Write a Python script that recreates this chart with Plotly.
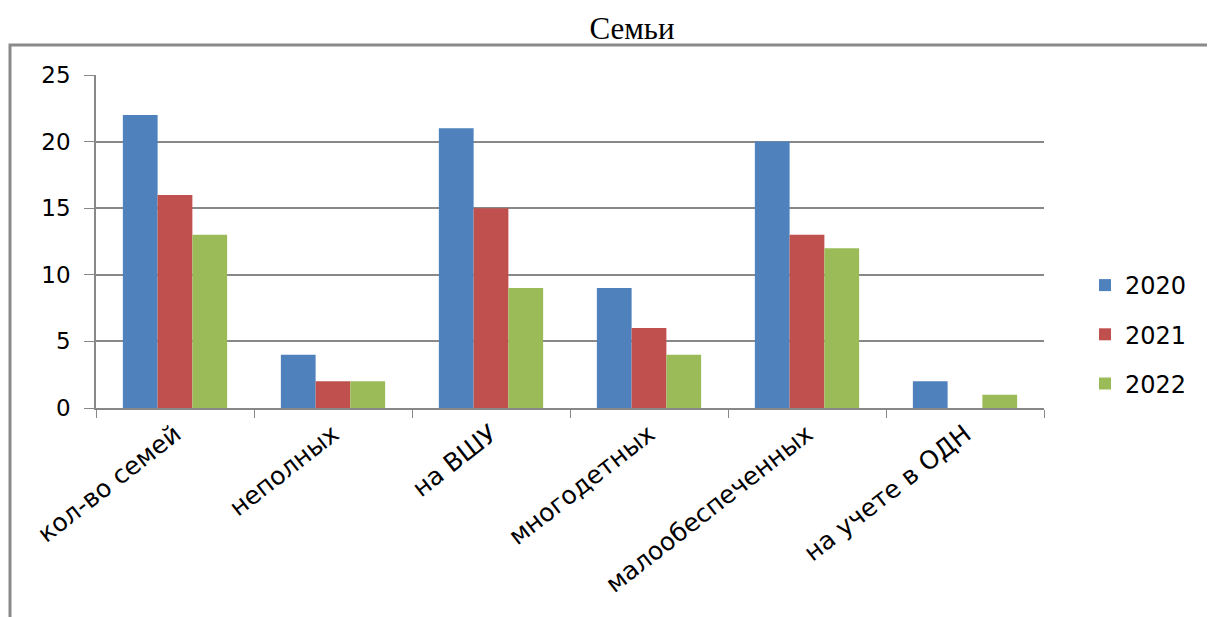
import plotly.graph_objects as go

categories = ["кол-во семей", "неполных", "на ВШУ", "многодетных", "малообеспеченных", "на учете в ОДН"]
series_names = ["2020", "2021", "2022"]
values_2020 = [22, 4, 21, 9, 20, 2]
values_2021 = [16, 2, 15, 6, 13, 0]
values_2022 = [13, 2, 9, 4, 12, 1]
colors = ["#4F81BD", "#C0504D", "#9BBB59"]
y_ticks = [0, 5, 10, 15, 20, 25]

OFF = 8  # page body margin
W, H = 1215, 617
L, R, T, B = 96 - OFF, 1044 - OFF, 75 - OFF, 408 - OFF

fig = go.Figure()
for name, vals, col in zip(series_names, [values_2020, values_2021, values_2022], colors):
    fig.add_trace(go.Bar(name=name, x=categories, y=vals, legendgroup=name,
                         marker=dict(color=col, line=dict(width=0))))

def px2paper_x(px):
    return (px - OFF - L) / (R - L)

def px2paper_y(py):
    return (B - (py - OFF)) / (B - T)

fig.update_layout(
    width=W, height=H,
    margin=dict(l=L, r=W - R, t=T, b=H - B, autoexpand=False),
    paper_bgcolor="white", plot_bgcolor="white",
    barmode="group", bargap=0.34, bargroupgap=0,
    title=dict(text="Семьи", x=(632 - OFF) / W, xref="container", xanchor="center",
               y=1 - (28 - OFF) / H, yanchor="middle",
               font=dict(family="Liberation Serif", size=31, color="black")),
    legend=dict(x=px2paper_x(1085), y=px2paper_y(263), xanchor="left", yanchor="top",
                font=dict(family="DejaVu Sans", size=24, color="black"),
                traceorder="grouped", tracegroupgap=15, itemwidth=30, bgcolor="rgba(0,0,0,0)"),
    showlegend=True,
    xaxis=dict(type="category", tickson="boundaries", ticks="outside", ticklen=8, tickcolor="#888888",
               showline=True, linecolor="#888888", linewidth=1.5, tickangle=-38,
               tickfont=dict(family="DejaVu Sans", size=25, color="black"), showgrid=False),
    yaxis=dict(range=[0, 25], tickvals=y_ticks, ticks="outside", ticklen=10, tickcolor="#888888",
               showline=True, linecolor="#888888", linewidth=1.5, showgrid=True, gridcolor="#888888",
               gridwidth=1.5, zeroline=False, tickfont=dict(family="DejaVu Sans", size=23, color="black"),
               ticklabelstandoff=9),
)

frame_x0 = px2paper_x(10)
frame_top = px2paper_y(45)
frame_bot = px2paper_y(660)
frame_right = px2paper_x(1240)
fig.add_shape(type="path", xref="paper", yref="paper",
              path=f"M {frame_x0} {frame_bot} L {frame_x0} {frame_top} L {frame_right} {frame_top}",
              line=dict(color="#8a8a8a", width=3))

fig.write_html("out.html")
